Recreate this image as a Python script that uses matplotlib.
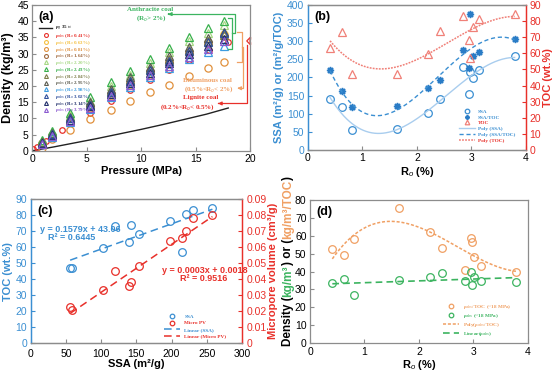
import numpy as np
import matplotlib
matplotlib.use('Agg')
import matplotlib.pyplot as plt
from matplotlib.lines import Line2D
from matplotlib.patches import FancyArrow
from matplotlib.transforms import IdentityTransform

plt.rcParams['font.family'] = ['Liberation Sans', 'DejaVu Sans']
plt.rcParams['mathtext.fontset'] = 'custom'
plt.rcParams['mathtext.rm'] = 'Liberation Sans'
plt.rcParams['mathtext.it'] = 'Liberation Sans:italic'
plt.rcParams['mathtext.bf'] = 'Liberation Sans:bold'

# ---------------- data ----------------
# panel (a): adsorbed-phase density vs pressure
pressure = [0.9, 1.8, 3.5, 5.3, 7.2, 9.0, 10.8, 12.6, 14.4, 16.1, 17.6]
p_041 = [0.1, 0.4, 0.9, 1.3, 1.8, 2.7, 3.5, 5.3, 7.2, 9.0, 10.8, 12.6, 14.4, 16.2, 18.0]
rho_041 = [0.4, 1.05, 2.1, 3.1, 4.2, 6.3, 8.5, 11.8, 15.3, 18.8, 22.0, 25.0, 28.0, 31.0, 33.5]
rho_063 = [2.0, 4.5, 9.0, 13.5, 17.0, 20.5, 24.0, 27.0, 30.0, 33.0, 36.0]
rho_081 = [1.0, 3.5, 6.5, 9.7, 12.5, 15.5, 18.0, 20.3, 23.0, 25.6, 27.3]
rho_164 = [2.3, 4.8, 9.3, 13.8, 17.5, 21.0, 24.5, 27.5, 30.5, 33.5, 35.5]
rho_220 = [3.0, 5.8, 11.0, 15.5, 20.0, 23.5, 27.0, 30.5, 33.8, 36.5, 38.8]
rho_243 = [3.3, 6.2, 11.8, 16.5, 21.2, 24.7, 28.4, 31.7, 35.0, 37.8, 40.0]
rho_284 = [2.6, 5.2, 10.2, 14.5, 18.3, 22.0, 25.2, 28.3, 31.2, 33.8, 35.8]
rho_295 = [2.8, 5.5, 10.5, 15.0, 19.0, 22.8, 26.0, 29.2, 32.0, 34.8, 36.8]
rho_298 = [2.0, 4.3, 8.8, 13.0, 16.5, 19.8, 22.8, 25.5, 28.3, 30.6, 32.3]
rho_302 = [2.5, 5.2, 10.0, 14.2, 18.0, 21.5, 24.8, 27.8, 30.8, 33.5, 36.3]
rho_314 = [2.4, 5.0, 9.6, 13.8, 17.5, 20.8, 24.0, 27.0, 29.8, 32.3, 34.5]
rho_379 = [2.2, 4.6, 9.2, 13.2, 16.8, 20.2, 23.3, 26.2, 29.0, 31.5, 33.8]
p_gas = [0, 2, 4, 6, 8, 10, 12, 14, 16, 18]
rho_gas = [0, 1.2, 2.5, 3.8, 5.2, 6.6, 8.1, 9.7, 11.3, 13.2]
ro_labels = ['0.41%', '0.63%', '0.81%', '1.64%', '2.20%', '2.43%', '2.84%', '2.95%',
             '2.98%', '3.02%', '3.14%', '3.79%']

# samples (b, c, d)
ro = [0.41, 0.63, 0.81, 1.64, 2.20, 2.43, 2.84, 2.95, 2.98, 3.02, 3.14, 3.79]
ssa = [140, 119, 56, 58, 102, 142, 230, 154, 215, 198, 220, 258]
ssa_toc = [220, 162, 119, 122, 170, 193, 275, 227, 375, 258, 270, 305]
toc = [63.5, 73, 47, 47, 59.5, 74, 83, 68, 57, 76.5, 81, 84.5]
micro_pv = [0.036, 0.045, 0.0225, 0.021, 0.033, 0.038, 0.078, 0.048, 0.066, 0.064, 0.070, 0.080]
rho_toc = [52.5, 49, 58, 75.5, 62, 53, 41, 59, 56.5, 48, 43, 40]
rho_abs = [33.5, 36, 27, 35.5, 37, 39, 34.5, 40, 32.5, 37, 34.5, 34]
fit_toc = [0.1579, 43.06]
fit_pv = [0.0003, 0.0018]

# ---------------- styles ----------------
BLUE = '#3b8fd2'
LBLUE = '#a9cdee'
RED = '#e8302a'
LRED = '#f08078'
ORANGE = '#f0a064'
GREEN = '#3cb460'
GRAY = '#8c8c8c'
SERIF = ['Liberation Serif', 'DejaVu Serif']
a_colors = ['#e8302a', '#f5c040', '#e0903c', '#a0683c', '#a6d884', '#38b04c',
            '#7c7c48', '#5c5c50', '#3c9ce0', '#30509c', '#22306c', '#8a5ad0']

fig = plt.figure(figsize=(5.54, 3.75), dpi=100)
axA = fig.add_axes([0.0583, 0.598, 0.3930, 0.3886])
axB = fig.add_axes([0.5554, 0.600, 0.3942, 0.3867])
axC = fig.add_axes([0.0554, 0.085, 0.3814, 0.3835])
axD = fig.add_axes([0.5596, 0.085, 0.3930, 0.3817])

TICKFS = 7.5
LABFS = 8
ANNFS = 5.0


def style_ax(ax, color=GRAY):
    for s in ax.spines.values():
        s.set_color(color)
        s.set_linewidth(0.9)
    ax.tick_params(direction='in', length=3, width=0.8, labelsize=TICKFS, color=GRAY, pad=2.5)


# ---------------- (a) ----------------
style_ax(axA)
axA.plot(p_gas, rho_gas, color='#222222', lw=1.0)
a_series = [rho_063, rho_081, rho_164, rho_220, rho_243, rho_284, rho_295,
            rho_298, rho_302, rho_314, rho_379]
handles = [Line2D([], [], color='#222222', lw=1.0, label='ρ$_{g}$ 35 ℃')]
axA.plot(p_041, rho_041, 'o', ms=4, mfc='none', mec=a_colors[0], mew=0.9)
handles.append(Line2D([], [], ls='none', marker='o', ms=2.8, mfc='none', mec=a_colors[0], mew=0.8,
                      label='ρ$_{abs}$ (R$_{o}$ ' + ro_labels[0] + ')'))
for i, ser in enumerate(a_series, start=1):
    mk = 'o' if i < 4 else '^'
    axA.plot(pressure, ser, mk, ms=5.2, mfc='none', mec=a_colors[i], mew=0.9)
    handles.append(Line2D([], [], ls='none', marker=mk, ms=2.8, mfc='none', mec=a_colors[i], mew=0.8,
                          label='ρ$_{abs}$ (R$_{o}$ ' + ro_labels[i] + ')'))
axA.set_xlim(0, 20)
axA.set_ylim(0, 45)
axA.set_xticks(range(0, 21, 5))
axA.set_yticks(range(0, 46, 5))
axA.set_xlabel('Pressure (MPa)', fontsize=LABFS, fontweight='bold', labelpad=1)
axA.set_ylabel('Density (kg/m³)', fontsize=9, fontweight='bold', labelpad=2)
axA.text(0.03, 0.96, '(a)', transform=axA.transAxes, fontsize=9, fontweight='bold', va='top')
legA = axA.legend(handles=handles, loc='upper left', bbox_to_anchor=(0.02, 0.885), frameon=False,
                  prop={'family': SERIF, 'weight': 'bold', 'size': 3.6},
                  labelspacing=-0.25, handlelength=2.6, handletextpad=0.6, borderpad=0,
                  labelcolor=['#222222'] + a_colors)

# annotations
kw = dict(clip_on=False, lw=0.9)
gc = '#3cb460'
axA.plot([17.98, 18.32, 18.32, 17.98], [40.9, 40.9, 31.3, 31.3], color=gc, **kw)
axA.plot([18.32, 18.62, 18.62, 12.6], [36.3, 36.3, 42.2, 42.2], color=gc, **kw)
axA.annotate('', xy=(12.2, 42.2), xytext=(12.8, 42.2),
             arrowprops=dict(arrowstyle='-|>', color=gc, lw=0.9, mutation_scale=5))
axA.text(10.8, 43.6, 'Anthracite coal', color=gc, fontsize=ANNFS, fontweight='bold',
         family=SERIF, ha='center', va='center')
axA.text(10.9, 41.1, '(R$_o$> 2%)', color=gc, fontsize=ANNFS, fontweight='bold',
         family=SERIF, ha='center', va='center')
oc = '#f0a064'
axA.plot([18.83, 19.24, 19.24, 18.83], [36.75, 36.75, 27.5, 27.5], color=oc, **kw)
axA.plot([19.24, 19.38, 19.38, 19.2], [32.1, 32.1, 19.3, 19.3], color=oc, **kw)
axA.annotate('', xy=(18.83, 19.3), xytext=(19.3, 19.3),
             arrowprops=dict(arrowstyle='-|>', color=oc, lw=0.9, mutation_scale=5))
axA.text(16.1, 21.7, 'Bituminous coal', color=oc, fontsize=ANNFS, fontweight='bold',
         family=SERIF, ha='center', va='center')
axA.text(16.2, 19.0, '(0.5%<R$_o$< 2%)', color=oc, fontsize=ANNFS, fontweight='bold',
         family=SERIF, ha='center', va='center')
rc = '#e8302a'
axA.add_patch(FancyArrow(20.0, 33.9, -0.3, 0, width=0.9, head_width=2.4, head_length=0.35,
                         length_includes_head=True, facecolor='white', edgecolor=rc, lw=0.9,
                         clip_on=False))
axA.plot([19.72, 19.72, 17.2], [32.6, 14.6, 14.6], color=rc, **kw)
axA.annotate('', xy=(16.8, 14.6), xytext=(17.4, 14.6),
             arrowprops=dict(arrowstyle='-|>', color=rc, lw=0.9, mutation_scale=5))
axA.text(15.5, 16.3, 'Lignite coal', color=rc, fontsize=ANNFS, fontweight='bold',
         family=SERIF, ha='center', va='center')
axA.text(14.3, 13.4, '(0.2%<R$_o$< 0.5%)', color=rc, fontsize=ANNFS, fontweight='bold',
         family=SERIF, ha='center', va='center')

# ---------------- (b) ----------------
style_ax(axB)
axB2 = axB.twinx()
style_ax(axB2)
for a in (axB, axB2):
    a.spines['left'].set_color(BLUE)
    a.spines['right'].set_color(RED)
axB.tick_params(axis='y', colors=BLUE, labelcolor=BLUE)
axB2.tick_params(axis='y', colors=RED, labelcolor=RED)
xs = np.linspace(min(ro), max(ro), 200)
hb1, = axB.plot(ro, ssa, 'o', ms=5.5, mfc='none', mec=BLUE, mew=0.9, label='SSA')
hb2, = axB.plot(ro, ssa_toc, marker=(8, 1, 0), ls='none', ms=5, color='#2a7cc6', label='SSA/TOC')
hb3, = axB2.plot(ro, toc, '^', ms=5.5, mfc='none', mec=LRED, mew=0.9, label='TOC')
hb4, = axB.plot(xs, np.polyval(np.polyfit(ro, ssa, 3), xs), '-', color=LBLUE, lw=1.0, label='Poly (SSA)')
hb5, = axB.plot(xs, np.polyval(np.polyfit(ro, ssa_toc, 4), xs), '--', color=BLUE, lw=1.0,
                dashes=(3, 2), label='Poly (SSA/TOC)')
hb6, = axB2.plot(xs, np.polyval(np.polyfit(ro, toc, 3), xs), '--', color=LRED, lw=1.1,
                 dashes=(1.2, 0.8), label='Poly (TOC)')
axB.set_xlim(0, 4)
axB.set_ylim(0, 400)
axB2.set_ylim(0, 90)
axB.set_xticks(range(0, 5))
axB.set_yticks(range(0, 401, 50))
axB2.set_yticks(range(0, 91, 10))
axB.set_xlabel('R$_o$ (%)', fontsize=LABFS, fontweight='bold', labelpad=1)
axB.set_ylabel('SSA (m²/g) or (m²/g/TOC)', fontsize=LABFS, fontweight='bold', color=BLUE, labelpad=2)
axB2.set_ylabel('TOC (wt.%)', fontsize=LABFS, fontweight='bold', color=RED, labelpad=1)
axB.text(0.03, 0.96, '(b)', transform=axB.transAxes, fontsize=9, fontweight='bold', va='top')
axB2.legend(handles=[hb1, hb2, hb3, hb4, hb5, hb6], loc='upper left', bbox_to_anchor=(0.68, 0.3),
            frameon=False, prop={'family': SERIF, 'weight': 'bold', 'size': 3.8},
            labelspacing=0.2, handlelength=3.0, handletextpad=0.6, borderpad=0, markerscale=0.6,
            labelcolor=[BLUE, BLUE, RED, BLUE, BLUE, RED])

# ---------------- (c) ----------------
style_ax(axC)
axC2 = axC.twinx()
style_ax(axC2)
for a in (axC, axC2):
    a.spines['left'].set_color(BLUE)
    a.spines['right'].set_color(RED)
axC.tick_params(axis='y', colors=BLUE, labelcolor=BLUE)
axC.tick_params(axis='x', pad=4)
axC2.tick_params(axis='y', colors=RED, labelcolor=RED, pad=3.5)
hc1, = axC.plot(ssa, toc, 'o', ms=5.5, mfc='none', mec=BLUE, mew=0.9, label='SSA')
hc2, = axC2.plot(ssa, micro_pv, 'o', ms=5.5, mfc='none', mec=RED, mew=0.9, label='Micro PV')
xl = np.array([min(ssa), max(ssa)])
hc3, = axC.plot(xl, np.polyval(fit_toc, xl), '--', color=BLUE, lw=1.1, dashes=(5, 3),
                label='Linear (SSA)')
hc4, = axC2.plot(xl, np.polyval(fit_pv, xl), '--', color=RED, lw=1.1, dashes=(5, 3),
                 label='Linear (Micro PV)')
axC.set_xlim(0, 300)
axC.set_ylim(0, 90)
axC2.set_ylim(0, 0.09)
axC.set_xticks(range(0, 301, 50))
axC.set_yticks(range(0, 91, 10))
axC2.set_yticks(np.arange(0, 0.091, 0.01))
axC2.set_yticklabels(['0'] + ['%.2f' % v for v in np.arange(0.01, 0.091, 0.01)])
axC.set_xlabel('SSA (m²/g)', fontsize=LABFS, fontweight='bold', labelpad=0)
axC.set_ylabel('TOC (wt.%)', fontsize=LABFS, fontweight='bold', color=BLUE, labelpad=2)
axC2.set_ylabel('Micropore volume (cm³/g)', fontsize=LABFS, fontweight='bold', color=RED, labelpad=1)
axC.text(0.03, 0.96, '(c)', transform=axC.transAxes, fontsize=9, fontweight='bold', va='top')
axC.text(70, 71.0, 'y = 0.1579x + 43.06', color=BLUE, fontsize=6.5, fontweight='bold', ha='center', va='center')
axC.text(58, 66.0, 'R² = 0.6445', color=BLUE, fontsize=6.5, fontweight='bold', ha='center', va='center')
axC.text(247, 45.7, 'y = 0.0003x + 0.0018', color=RED, fontsize=6.5, fontweight='bold', ha='center', va='center')
axC.text(245, 40.6, 'R² = 0.9516', color=RED, fontsize=6.5, fontweight='bold', ha='center', va='center')
axC2.legend(handles=[hc1, hc2, hc3, hc4], loc='upper left', bbox_to_anchor=(0.62, 0.22),
            frameon=False, prop={'family': SERIF, 'weight': 'bold', 'size': 3.8},
            labelspacing=0.35, handlelength=3.0, handletextpad=0.8, borderpad=0, markerscale=0.6,
            labelcolor=[BLUE, RED, BLUE, RED])

# ---------------- (d) ----------------
style_ax(axD)
hd1, = axD.plot(ro, rho_toc, 'o', ms=5.5, mfc='none', mec=ORANGE, mew=0.9,
                label='ρ$_{abs}$/TOC (~18 MPa)')
hd2, = axD.plot(ro, rho_abs, 'o', ms=5.5, mfc='none', mec=GREEN, mew=0.9,
                label='ρ$_{abs}$ (~18 MPa)')
hd3, = axD.plot(xs, np.polyval(np.polyfit(ro, rho_toc, 3), xs), '--', color=ORANGE, lw=1.1,
                dashes=(2, 1.2), label='Poly(ρ$_{abs}$/TOC)')
hd4, = axD.plot(xs, np.polyval(np.polyfit(ro, rho_abs, 1), xs), '--', color=GREEN, lw=1.2,
                dashes=(4, 2.5), label='Linear(ρ$_{abs}$)')
axD.set_xlim(0, 4)
axD.set_ylim(0, 80)
axD.set_xticks(range(0, 5))
axD.set_yticks(range(0, 81, 10))
axD.set_xlabel('R$_o$ (%)', fontsize=LABFS, fontweight='bold', labelpad=1)
axD.text(0.03, 0.96, '(d)', transform=axD.transAxes, fontsize=9, fontweight='bold', va='top')
axD.legend(handles=[hd1, hd2, hd3, hd4], loc='upper left', bbox_to_anchor=(0.6, 0.3),
           frameon=False, prop={'family': SERIF, 'weight': 'bold', 'size': 3.8},
           labelspacing=0.2, handlelength=3.0, handletextpad=0.8, borderpad=0, markerscale=0.6,
           labelcolor=[ORANGE, GREEN, ORANGE, GREEN])

# multi-coloured y label for (d)
fig.canvas.draw()
renderer = fig.canvas.get_renderer()
pieces = [('Density (', 'black'), ('kg/m³', GREEN), (') or (', 'black'),
          ('kg/m³/TOC', ORANGE), (')', 'black')]
tobjs = []
for s, c in pieces:
    t = fig.text(0, 0, s, color=c, fontsize=8.5, fontweight='bold', rotation=90,
                 rotation_mode='anchor', ha='left', va='baseline', transform=IdentityTransform())
    tobjs.append(t)
lens = [t.get_window_extent(renderer).height for t in tobjs]
total = sum(lens)
x0 = 291
y = (375 - 261) - total / 2
for t, L in zip(tobjs, lens):
    t.set_position((x0, y))
    y += L

fig.savefig('out.png', dpi=100)
